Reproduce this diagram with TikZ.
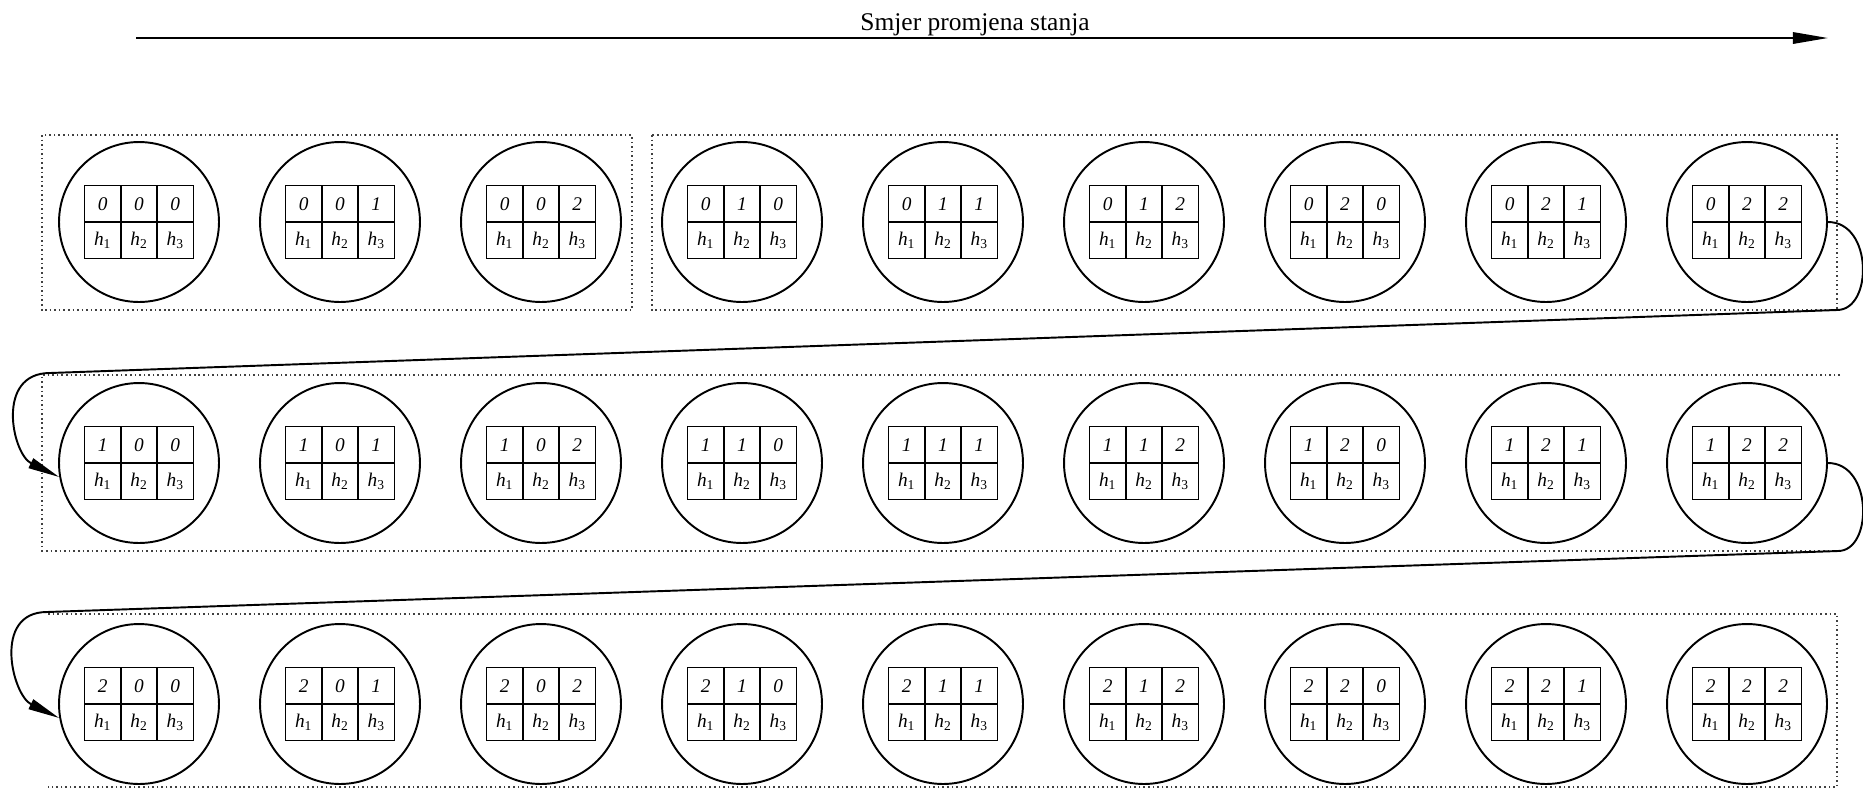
\documentclass[tikz,border=0pt]{standalone}
\usepackage{fontspec}
\setmainfont{Liberation Serif}
\usetikzlibrary{arrows.meta}

\tikzset{
  state/.style={circle, draw, line width=1.1pt, minimum size=3.2cm, inner sep=0pt},
  cell/.style={draw, line width=1pt, minimum width=0.727cm, minimum height=0.73cm,
    inner sep=0pt, font=\fontsize{11}{13}\selectfont\itshape},
  frame/.style={line width=0.9pt, dash pattern=on 0.9pt off 1.7pt, black!75},
  link/.style={line width=1.1pt, -{Triangle[length=18pt,width=6pt]}}
}
\newcommand{\hlab}[1]{h\textsubscript{\upshape #1}}

\begin{document}
\begin{tikzpicture}[x=0.02cm, y=-0.02cm]
\useasboundingbox (0,0) rectangle (1863,789);

% direction of state change
\coordinate (from) at (136,38);
\coordinate (to) at (1828,38);
\draw[line width=1.1pt, -{Triangle[length=20pt,width=6.5pt]}] (from) -- (to);
\node[anchor=base, font=\fontsize{14.5}{17}\selectfont] (title) at (975,30) {Smjer promjena stanja};

% dotted frames
\draw[frame] (42,135) rectangle (632,310);
\draw[frame] (652,135) rectangle (1837,310);
\draw[frame] (1840,375) -- (42,375) -- (42,551) -- (1840,551);
\draw[frame] (48,614) -- (1837,614) -- (1837,787) -- (48,787);

% states
\foreach \r in {0,1,2} {
  \foreach \i in {0,...,8} {
    \pgfmathsetmacro{\cx}{139+201*\i}
    \pgfmathsetmacro{\cy}{222+241*\r}
    \pgfmathtruncatemacro{\db}{floor(\i/3)}
    \pgfmathtruncatemacro{\dc}{mod(\i,3)}
    \node[state] (s\r\i) at (\cx,\cy) {};
    \foreach \k/\v in {1/\r,2/\db,3/\dc} {
      \node[cell] (s\r\i-v\k) at (\cx-72.6+36.3*\k,\cy-18.25) {\v};
      \node[cell] (s\r\i-h\k) at (\cx-72.6+36.3*\k,\cy+18.25) {\hlab{\k}};
    }
  }
}

% row changes
\coordinate (turnA) at (1837,310);
\coordinate (landA) at (50,373);
\coordinate (turnB) at (1838,551);
\coordinate (landB) at (47,612);
\draw[link] (s08.east) .. controls +(45,0) and +(36,0) .. (turnA) -- (landA)
  .. controls +(-55,0) and +(-47,-23) .. (s10.190);
\draw[link] (s18.east) .. controls +(45,0) and +(35,0) .. (turnB) -- (landB)
  .. controls +(-55,0) and +(-47,-23) .. (s20.190);
\end{tikzpicture}
\end{document}
